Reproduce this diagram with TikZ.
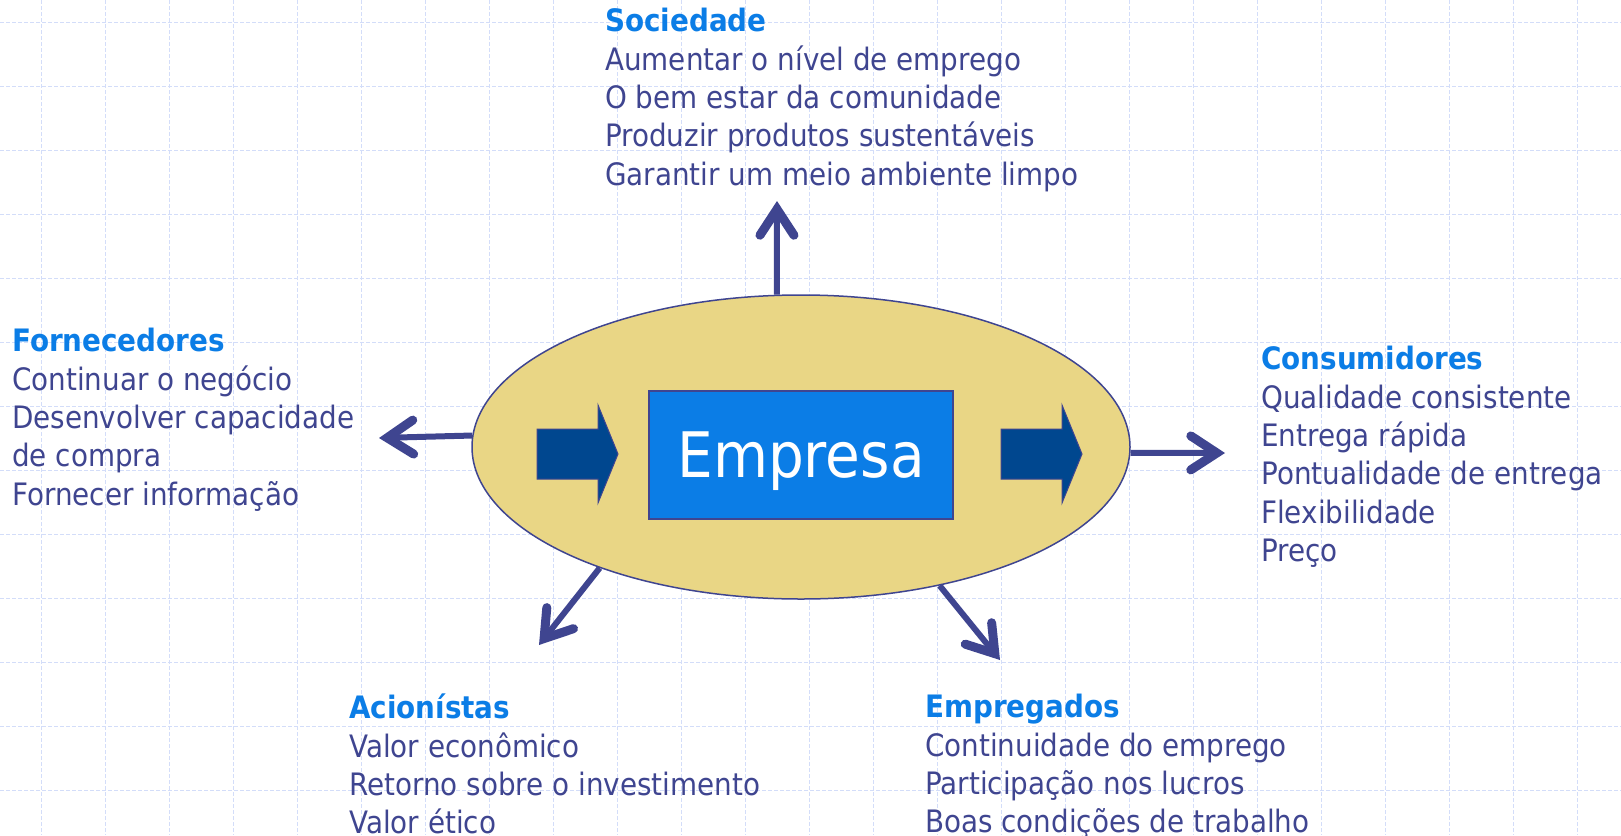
\documentclass[tikz,border=0pt]{standalone}
\usepackage{fontspec}
\setmainfont{DejaVu Sans}[FakeStretch=0.9]
\usetikzlibrary{positioning}
\usetikzlibrary{arrows.meta}
\usetikzlibrary{shapes.geometric}

\definecolor{gridblue}{HTML}{D3DDF9}
\definecolor{linkblue}{HTML}{3F4590}
\definecolor{headblue}{HTML}{0B7DE6}
\definecolor{sandfill}{HTML}{E9D685}
\definecolor{navyfill}{HTML}{00478F}

\tikzset{
  gridline/.style={draw=gridblue, line width=1.1bp, dash pattern=on 4bp off 2bp},
  link/.style={draw=linkblue, line width=6bp,
    -{Straight Barb[length=26bp, width=34bp, line width=9bp, line cap=round]}},
  group/.style={anchor=north west, inner sep=0pt, align=left, text=linkblue,
    font=\fontsize{31}{38.5}\selectfont},
}
\newcommand{\grouptitle}[1]{\textcolor{headblue}{\bfseries #1}}

\begin{document}
\begin{tikzpicture}[x=1bp, y=1bp]
    \useasboundingbox (0,0) rectangle (1621,-835);

    % background grid
    \foreach \gx in {0,...,24}
        \draw[gridline] ({41.3+64*\gx},0) -- ({41.3+64*\gx},-835);
    \foreach \gy in {0,...,12}
        \draw[gridline] (0,{-22.7-64*\gy}) -- (1621,{-22.7-64*\gy});

    % company
    \node[ellipse, fill=sandfill, draw=linkblue, line width=1.5bp, inner sep=0pt,
          minimum width=658bp, minimum height=304bp] (emp) at (801,-447) {};
    \node[fill=headblue, draw=linkblue, line width=1.5bp, text=white,
          minimum width=304bp, minimum height=128bp, text depth=0pt,
          font=\fontsize{63}{63}\selectfont] (firm) at (801,-455) {Empresa};
    \foreach \bx in {537,1001}
        \fill[navyfill, draw=linkblue, line width=1bp] (\bx,-429) -- ++(61,0) -- ++(0,24)
            -- ++(20,-49) -- ++(-20,-49) -- ++(0,24) -- ++(-61,0) -- cycle;

    % stakeholders
    \node[group] (soc) at (605,-8) {\grouptitle{Sociedade}\\
        Aumentar o nível de emprego\\
        O bem estar da comunidade\\
        Produzir produtos sustentáveis\\
        Garantir um meio ambiente limpo};
    \node[group] (forn) at (12,-328) {\grouptitle{Fornecedores}\\
        Continuar o negócio\\
        Desenvolver capacidade\\
        de compra\\
        Fornecer informação};
    \node[group] (cons) at (1261,-346) {\grouptitle{Consumidores}\\
        Qualidade consistente\\
        Entrega rápida\\
        Pontualidade de entrega\\
        Flexibilidade\\
        Preço};
    \node[group] (acio) at (349,-694) {\grouptitle{Acionístas}\\
        Valor econômico\\
        Retorno sobre o investimento\\
        Valor ético};
    \node[group] (empr) at (925,-694) {\grouptitle{Empregados}\\
        Continuidade do emprego\\
        Participação nos lucros\\
        Boas condições de trabalho};

    % arrow ends
    \coordinate (socTip) at (777,-201);
    \coordinate (fornTip) at (379,-438);
    \coordinate (consTip) at (1225,-453);
    \coordinate (acioTip) at (539,-645);
    \coordinate (emprTip) at (1000,-660);

    \draw[link] (emp.99) -- (socTip);
    \draw[link] (emp.178.4) -- (fornTip);
    \draw[link] (emp.-1) -- (consTip);
    \draw[link] (emp.211) -- (acioTip);
    \draw[link] (emp.-45) -- (emprTip);
\end{tikzpicture}
\end{document}
